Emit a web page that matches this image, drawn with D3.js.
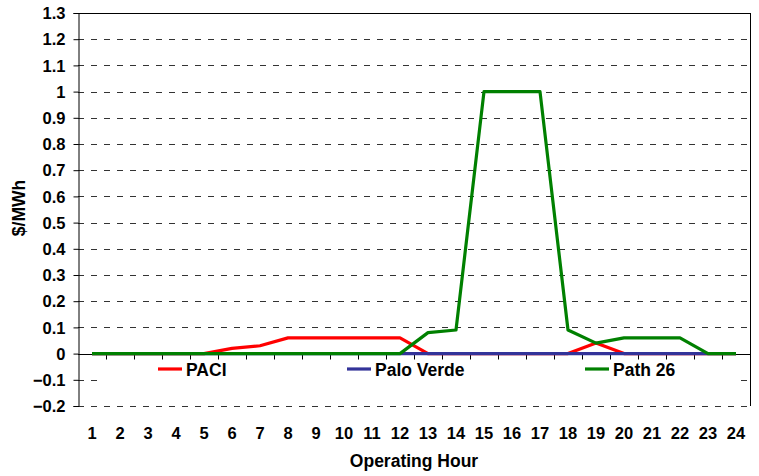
<!DOCTYPE html>
<html>
<head>
<meta charset="utf-8">
<script src="https://cdn.jsdelivr.net/npm/d3@7"></script>
<style>
  body { margin: 0; background: #fff; }
  text { font-family: "Liberation Sans", Arial, sans-serif; font-weight: bold; fill: #000; }
</style>
</head>
<body>
<svg width="759" height="476"></svg>
<script>
var hours = d3.range(1, 25);
var paci      = [0, 0, 0, 0, 0, 0.02, 0.03, 0.06, 0.06, 0.06, 0.06, 0.06, 0, 0, 0, 0, 0, 0, 0.04, 0, 0, 0, 0, 0];
var paloVerde = [0, 0, 0, 0, 0, 0, 0, 0, 0, 0, 0, 0, 0, 0, 0, 0, 0, 0, 0, 0, 0, 0, 0, 0];
var path26    = [0, 0, 0, 0, 0, 0, 0, 0, 0, 0, 0, 0, 0.08, 0.09, 1, 1, 1, 0.09, 0.04, 0.06, 0.06, 0.06, 0, 0];
var yTicks = [-0.2, -0.1, 0, 0.1, 0.2, 0.3, 0.4, 0.5, 0.6, 0.7, 0.8, 0.9, 1, 1.1, 1.2, 1.3];
var seriesNames = ['PACI', 'Palo Verde', 'Path 26'];
var seriesColors = ['#ff0000', '#333399', '#008000'];

var plotL = 78, plotR = 750, plotT = 13, plotB = 406;
var svg = d3.select('svg');

var x = d3.scaleBand().domain(hours).range([plotL, plotR]);
var y = d3.scaleLinear().domain([-0.2, 1.3]).range([plotB, plotT]);

// gridlines
var grid = svg.append('g').attr('class', 'grid');
grid.selectAll('line').data(yTicks.filter(function(d){ return d != 0 && d != 1.3; }))
  .enter().append('line')
  .attr('x1', plotL).attr('x2', plotR)
  .attr('y1', function(d){ return Math.round(y(d)) + 0.5; })
  .attr('y2', function(d){ return Math.round(y(d)) + 0.5; })
  .attr('stroke', '#333')
  .attr('stroke-width', 1)
  .attr('stroke-dasharray', '6,7');

// plot border top & right
svg.append('line').attr('x1', plotL).attr('x2', plotR + 0.5).attr('y1', plotT + 0.5).attr('y2', plotT + 0.5).attr('stroke', '#000');
svg.append('line').attr('x1', plotR + 0.5).attr('x2', plotR + 0.5).attr('y1', plotT).attr('y2', plotB).attr('stroke', '#000');

// legend background hides part of the -0.1 gridline
svg.append('rect').attr('class', 'legbg')
  .attr('x', 98).attr('y', 360).attr('width', 640).attr('height', 34)
  .style('fill', '#ffffff').style('stroke', 'none');

// y axis
var yAxis = svg.append('g').attr('transform', 'translate(' + (plotL + 0.5) + ',0)')
  .call(d3.axisLeft(y).tickValues(yTicks).tickSize(5).tickPadding(8).tickFormat(d3.format('')));
yAxis.select('.domain').attr('stroke', '#000');
yAxis.selectAll('.tick line').attr('stroke', '#000');
yAxis.selectAll('text').style('font-size', '16.5px').attr('dy', '0.35em');
yAxis.attr('font-family', null).attr('font-size', null);

// x axis at zero
var xAxis = svg.append('g').attr('transform', 'translate(0,' + (Math.round(y(0)) + 0.5) + ')');
xAxis.append('line').attr('x1', plotL).attr('x2', plotR).attr('stroke', '#000');
xAxis.selectAll('line.tk').data(hours.slice(1)).enter().append('line')
  .attr('class', 'tk')
  .attr('x1', function(d){ return Math.round(x(d)) + 0.5; })
  .attr('x2', function(d){ return Math.round(x(d)) + 0.5; })
  .attr('y1', 0).attr('y2', 5).attr('stroke', '#000');

svg.append('g').selectAll('text').data(hours).enter().append('text')
  .attr('x', function(d){ return x(d) + x.bandwidth() / 2; })
  .attr('y', 439)
  .attr('text-anchor', 'middle')
  .style('font-size', '16.5px')
  .text(function(d){ return d; });

// lines
var line = d3.line()
  .x(function(d, i){ return x(hours[i]) + x.bandwidth() / 2; })
  .y(function(d){ return y(d); });

[paci, paloVerde, path26].forEach(function(s, i) {
  svg.append('path').datum(s)
    .attr('d', line)
    .attr('fill', 'none')
    .attr('stroke', seriesColors[i])
    .attr('stroke-width', 3.2)
    .attr('stroke-linejoin', 'round');
});

// legend
var legX = [158, 347, 585];
var leg = svg.append('g').selectAll('g').data(seriesNames).enter().append('g')
  .attr('transform', function(d, i){ return 'translate(' + legX[i] + ',369)'; });
leg.append('line').attr('x1', 0).attr('x2', 24).attr('stroke', function(d, i){ return seriesColors[i]; }).attr('stroke-width', 3.2);
leg.append('text').attr('x', 28).attr('y', 7).style('font-size', '17.5px').text(function(d){ return d; });

// titles
svg.append('text').attr('x', (plotL + plotR) / 2).attr('y', 467).attr('text-anchor', 'middle').style('font-size', '17.5px').text('Operating Hour');
svg.append('text').attr('transform', 'translate(25,208) rotate(-90)').attr('text-anchor', 'middle').style('font-size', '17.5px').text('$/MWh');
</script>
</body>
</html>
